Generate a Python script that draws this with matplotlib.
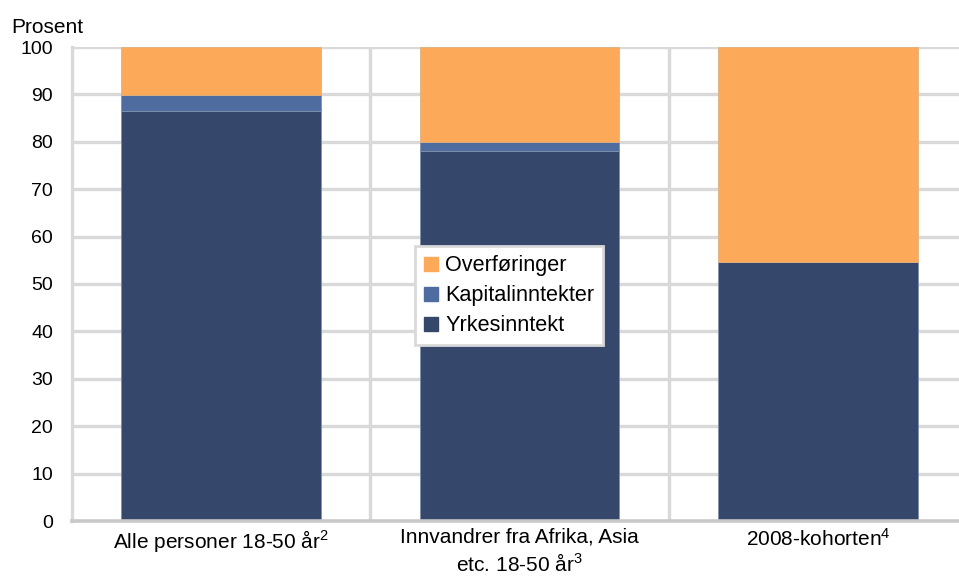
import numpy as np
import matplotlib
matplotlib.use("Agg")
import matplotlib.pyplot as plt
from matplotlib.patches import Patch

matplotlib.rcParams["font.family"] = ["Liberation Sans", "DejaVu Sans"]
matplotlib.rcParams["mathtext.fontset"] = "custom"
matplotlib.rcParams["mathtext.rm"] = "Liberation Sans"
matplotlib.rcParams["mathtext.it"] = "Liberation Sans"

# data
kategorier = ["Alle personer 18-50 år$^2$",
              "Innvandrer fra Afrika, Asia\netc. 18-50 år$^3$",
              "2008-kohorten$^4$"]
yrkesinntekt = [86.5, 78.1, 54.6]
kapitalinntekter = [3.4, 1.8, 0.0]
overforinger = [10.1, 20.1, 45.4]
yticks = list(range(0, 101, 10))

c_yrk = "#35486B"
c_kap = "#4E6CA0"
c_ovr = "#FCAA5A"
grid_c = "#D9D9D9"

fig = plt.figure(figsize=(9.59, 5.76), dpi=100)
W, H = 959, 576
ax = fig.add_axes([72 / W, (H - 521) / H, (967 - 72) / W, (521 - 47) / H])

x = np.arange(len(kategorier))
bw = 0.67
ax.bar(x, yrkesinntekt, bw, color=c_yrk, edgecolor="#8090AA", lw=0.6, zorder=3)
b1 = np.array(yrkesinntekt)
ax.bar(x, kapitalinntekter, bw, bottom=b1, color=c_kap, edgecolor="#8090AA", lw=0.6, zorder=3)
b2 = b1 + np.array(kapitalinntekter)
ax.bar(x, overforinger, bw, bottom=b2, color=c_ovr, edgecolor="#E0B080", lw=0.6, zorder=3)

ax.set_xlim(-0.5, 2.5)
ax.set_ylim(0, 100)
ax.set_yticks(yticks)
ax.tick_params(axis="y", length=0, pad=13.5, labelsize=14)
ax.set_xticks(x)
ax.set_xticklabels(kategorier, fontsize=15, linespacing=1.35)
ax.tick_params(axis="x", length=0, pad=5)

for yv in yticks[1:]:
    ax.axhline(yv, color=grid_c, lw=2.4, zorder=1)
for xv in [0.5, 1.5]:
    ax.axvline(xv, color=grid_c, lw=2.4, zorder=1)

for s in ["top", "right"]:
    ax.spines[s].set_visible(False)
ax.spines["left"].set_color(grid_c)
ax.spines["left"].set_linewidth(2.4)
ax.spines["bottom"].set_color("#C8C8C8")
ax.spines["bottom"].set_linewidth(2.6)
ax.spines["bottom"].set_zorder(4)

handles = [Patch(color=c_ovr, label="Overføringer"),
           Patch(color=c_kap, label="Kapitalinntekter"),
           Patch(color=c_yrk, label="Yrkesinntekt")]
leg = ax.legend(handles=handles, loc="upper left", bbox_to_anchor=(343 / 895, 0.58),
                fontsize=15.6, frameon=True, fancybox=False, framealpha=1,
                handlelength=0.62, handleheight=0.62, handletextpad=0.35,
                labelspacing=0.42, borderpad=0.42, borderaxespad=0)
leg.get_frame().set_facecolor("white")
leg.get_frame().set_edgecolor(grid_c)
leg.get_frame().set_linewidth(2)
leg.set_zorder(5)

fig.text(11 / W, 1 - 33 / H, "Prosent", fontsize=15, va="baseline", ha="left")

fig.savefig("out.png", dpi=100)
